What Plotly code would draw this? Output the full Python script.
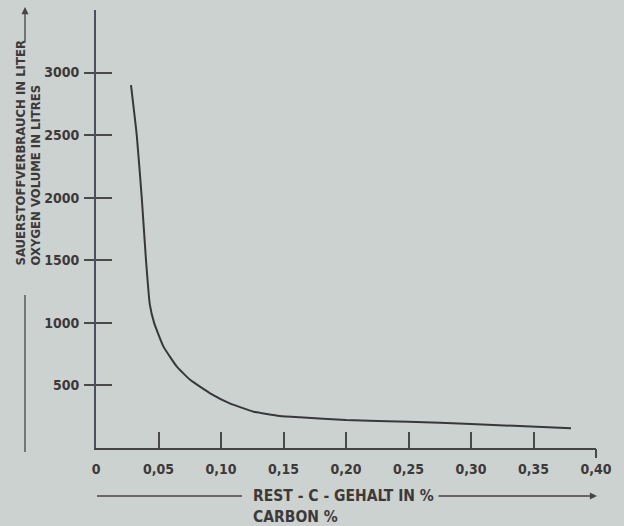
import plotly.graph_objects as go

# Residual carbon content (%) vs. oxygen consumption (litres)
carbon = [0.028, 0.0326, 0.0366, 0.040, 0.043, 0.0465, 0.054, 0.0647,
          0.0753, 0.0913, 0.107, 0.126, 0.147, 0.163, 0.20, 0.25, 0.30, 0.38]
oxygen = [2900, 2500, 2000, 1500, 1150, 1000, 810, 650,
          545, 437, 357, 290, 256, 245, 224, 210, 192, 157]

x_ticks = [0, 0.05, 0.10, 0.15, 0.20, 0.25, 0.30, 0.35, 0.40]
x_tick_text = ["0", "0,05", "0,10", "0,15", "0,20", "0,25", "0,30", "0,35", "0,40"]
y_ticks = [500, 1000, 1500, 2000, 2500, 3000]
y_tick_text = ["500", "1000", "1500", "2000", "2500", "3000"]

x_title = "REST - C - GEHALT IN %"
x_title_en = "CARBON %"
y_title = "SAUERSTOFFVERBRAUCH IN LITER"
y_title_en = "OXYGEN VOLUME IN LITRES"

W, H = 624, 526
ML, MR, MT, MB = 96, 28, 10, 78
PW, PH = W - ML - MR, H - MT - MB

BG = "#cbd2cf"
INK = "#3d3939"
AXIS_Y = "#4a5060"
FONT = "DejaVu Sans Condensed, Liberation Sans Narrow, Arial Narrow, sans-serif"


def px_x(p):
    return (p - ML) / PW


def px_y(p):
    return (H - MB - p) / PH


fig = go.Figure()

fig.add_trace(go.Scatter(
    x=carbon, y=oxygen, mode="lines",
    line=dict(color="#38383c", width=2, shape="spline", smoothing=0.4),
    hoverinfo="skip", showlegend=False,
))
# helper trace so the overlay axes (extra tick marks) get drawn
fig.add_trace(go.Scatter(
    x=carbon, y=oxygen, mode="lines", xaxis="x2", yaxis="y2",
    line=dict(color="rgba(0,0,0,0)", width=0),
    hoverinfo="skip", showlegend=False,
))

tick_font = dict(family=FONT, size=14, color=INK, weight="bold")

fig.update_layout(
    width=W, height=H,
    margin=dict(l=ML, r=MR, t=MT, b=MB, pad=0),
    paper_bgcolor=BG, plot_bgcolor=BG,
    showlegend=False,
    xaxis=dict(
        range=[0, 0.40], tickvals=x_ticks, ticktext=x_tick_text,
        ticks="inside", ticklen=16, tickwidth=1.5, tickcolor="#4a4a4a",
        showline=True, linecolor="#444444", linewidth=2,
        showgrid=False, zeroline=False, tickfont=tick_font,
        ticklabelstandoff=7,
    ),
    yaxis=dict(
        range=[0, 3500], tickvals=y_ticks, ticktext=y_tick_text,
        ticks="outside", ticklen=10, tickwidth=1.5, tickcolor="#4a4a4a",
        showline=True, linecolor=AXIS_Y, linewidth=2,
        showgrid=False, zeroline=False, tickfont=tick_font,
        ticklabelstandoff=2,
    ),
    xaxis2=dict(
        range=[0, 0.40], overlaying="x", anchor="y2", side="bottom",
        tickvals=[0.40], ticks="outside", ticklen=9, tickwidth=1.5,
        tickcolor="#4a4a4a", showticklabels=False, showline=False,
        showgrid=False, zeroline=False,
    ),
    yaxis2=dict(
        range=[0, 3500], overlaying="y", anchor="x2", side="left",
        tickvals=y_ticks, ticks="inside", ticklen=16, tickwidth=1.5,
        tickcolor="#4a4a4a", showticklabels=False, showline=False,
        showgrid=False, zeroline=False,
    ),
)

x_title_font = dict(family=FONT, size=15.5, color=INK, weight="bold")
y_title_font = dict(family=FONT, size=13, color=INK, weight="bold")

annotations = [
    dict(text=x_title, x=px_x(251), y=px_y(496), xanchor="left", yanchor="middle",
         font=x_title_font),
    dict(text=x_title_en, x=px_x(251), y=px_y(517), xanchor="left", yanchor="middle",
         font=x_title_font),
    dict(text=y_title, x=px_x(20), y=px_y(268), xanchor="center", yanchor="bottom",
         textangle=-90, font=y_title_font),
    dict(text=y_title_en, x=px_x(35), y=px_y(268), xanchor="center", yanchor="bottom",
         textangle=-90, font=y_title_font),
]
for a in annotations:
    fig.add_annotation(xref="paper", yref="paper", showarrow=False, **a)

# arrow heads on the axis-title leader lines
fig.add_annotation(xref="paper", yref="paper", x=px_x(597), y=px_y(496),
                   ax=-160, ay=0, text="", showarrow=True, arrowhead=2,
                   arrowsize=1.1, arrowwidth=1.3, arrowcolor="#4a4444")
fig.add_annotation(xref="paper", yref="paper", x=px_x(25), y=px_y(7),
                   ax=0, ay=37, text="", showarrow=True, arrowhead=2,
                   arrowsize=1.1, arrowwidth=1.3, arrowcolor="#4a4444")

line_style = dict(color="#4a4444", width=1.3)
fig.add_shape(type="line", xref="paper", yref="paper",
              x0=px_x(97), x1=px_x(242), y0=px_y(496), y1=px_y(496), line=line_style)
fig.add_shape(type="line", xref="paper", yref="paper",
              x0=px_x(25), x1=px_x(25), y0=px_y(295), y1=px_y(452), line=line_style)

fig.write_html("out.html")
